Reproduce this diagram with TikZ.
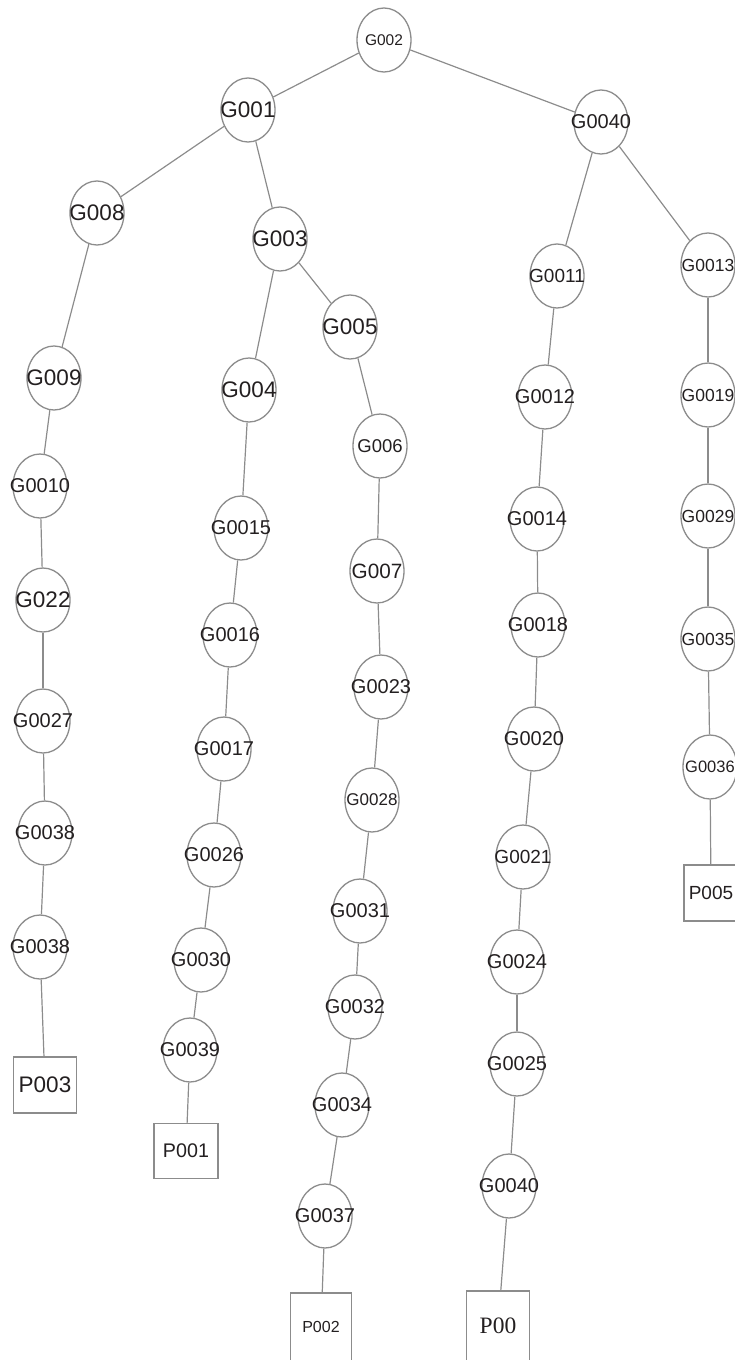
\documentclass[tikz,border=0pt]{standalone}
\usepackage{fontspec}
\setmainfont{Liberation Sans}
\newfontfamily\serifP{Liberation Serif}
\usepackage{tikz}
\usetikzlibrary{shapes.geometric}
\definecolor{LineGray}{HTML}{8C8C8C}
\definecolor{InkDark}{HTML}{231F20}
\newcommand\fsz[1]{\fontsize{#1}{#1}\selectfont}
\tikzset{gnode/.style={ellipse,draw=LineGray,line width=1.3pt,minimum width=54pt,
 minimum height=64pt,inner sep=0pt,text=InkDark},pbox/.style={rectangle,draw=LineGray,
 line width=1.3pt,inner sep=0pt,text=InkDark},edge/.style={draw=LineGray,line width=1.2pt}}

\begin{document}
\begin{tikzpicture}[x=1pt,y=-1pt]
\useasboundingbox (0,0) rectangle (735,1360);
\clip (0,0) rectangle (735,1360);
% upper part of the tree
\foreach \n/\x/\y/\s/\t in {root/384/40/15.5/G002,g1/248/110/22.5/G001,g40/601/122/20/G0040,
 g8/97/213/22.5/G008,g3/280/239/22.5/G003,g5/350/327/22.5/G005,g11/557/276/19/G0011,
 g13/708/265/17.5/G0013}
 \node[gnode,font=\fsz{\s}] (\n) at (\x,\y) {\makebox[0pt]{\t}};
% the five chains
\foreach \n/\x/\y/\s/\t in {a1/54/378/22.5/G009,a2/40/486/20/G0010,a3/43/600/22.5/G022,
 a4/43/721/20/G0027,a5/45/833/20/G0038,a6/40/947/20/G0038,
 b1/249/390/22.5/G004,b2/241/528/20/G0015,b3/230/635/20/G0016,b4/224/749/20/G0017,
 b5/214/855/20/G0026,b6/201/960/20/G0030,b7/190/1050/20/G0039,
 c1/380/446/18.5/G006,c2/377/571/20.7/G007,c3/381/687/20/G0023,c4/372/800/17/G0028,
 c5/360/911/20/G0031,c6/355/1007/20/G0032,c7/342/1105/20/G0034,c8/325/1216/20/G0037,
 d1/545/397/20/G0012,d2/537/519/20/G0014,d3/538/625/20/G0018,d4/534/739/20/G0020,
 d5/523/857/19/G0021,d6/517/962/20/G0024,d7/517/1064/20/G0025,d8/509/1186/20/G0040,
 e1/708/395/17.5/G0019,e2/708/516/17.5/G0029,e3/708/639/17.5/G0035,e4/710/767/16.5/G0036}
 \node[gnode,font=\fsz{\s}] (\n) at (\x,\y) {\makebox[0pt]{\t}};
% leaf boxes
\node[pbox,minimum width=63pt,minimum height=56pt,font=\fsz{22.5}] (a7) at (45,1085) {P003};
\node[pbox,minimum width=64pt,minimum height=55pt,font=\fsz{19.7}] (b8) at (186,1151) {P001};
\node[pbox,minimum width=61pt,minimum height=68pt,font=\fsz{16}] (c9) at (321,1327) {P002};
\node[pbox,minimum width=63pt,minimum height=70pt,font=\serifP\fsz{23.5}] (d9) at (498,1326) {P00};
\node[pbox,minimum width=54pt,minimum height=56pt,font=\fsz{19}] (e5) at (711,893) {P005};
% connectors
\foreach \a/\b in {root/g1,root/g40,g1/g8,g1/g3,g3/g5,g40/g11,g40/g13,
 g8/a1,g3/b1,g5/c1,g11/d1,g13/e1}
 \draw[edge] (\a)--(\b);
\foreach \i [count=\j from 2] in {1,...,6} \draw[edge] (a\i)--(a\j);
\foreach \i [count=\j from 2] in {1,...,7} \draw[edge] (b\i)--(b\j);
\foreach \i [count=\j from 2] in {1,...,8} \draw[edge] (c\i)--(c\j);
\foreach \i [count=\j from 2] in {1,...,8} \draw[edge] (d\i)--(d\j);
\foreach \i [count=\j from 2] in {1,...,4} \draw[edge] (e\i)--(e\j);
\end{tikzpicture}
\end{document}
